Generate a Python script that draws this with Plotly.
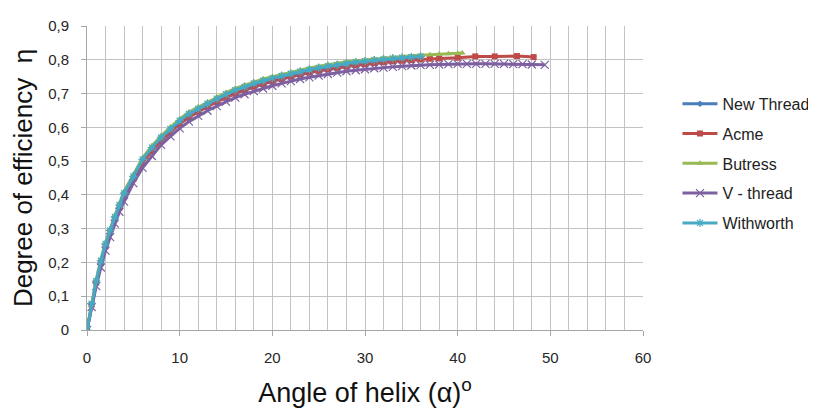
import plotly.graph_objects as go

# ---------------- data ----------------
new_x = [0, 0.5, 1, 1.5, 2, 2.5, 3, 3.5, 4, 5, 6, 7, 8, 9, 10, 11, 12, 13, 14, 15, 16, 17, 18,
         19, 20, 21, 22, 23, 24, 25, 26, 27, 28, 29, 30, 31, 32, 33, 34, 35, 35.5]
new_y = [0, 0.077, 0.144, 0.203, 0.253, 0.293, 0.333, 0.368, 0.403, 0.453, 0.503, 0.538, 0.568,
         0.593, 0.618, 0.638, 0.653, 0.668, 0.683, 0.696, 0.708, 0.718, 0.728, 0.736, 0.743, 0.75,
         0.757, 0.763, 0.769, 0.774, 0.779, 0.783, 0.787, 0.791, 0.794, 0.797, 0.8, 0.802, 0.804,
         0.806, 0.807]

acme_x = [0, 0.5, 1, 1.5, 2, 2.5, 3, 3.5, 4, 5, 6, 7, 8, 9, 10, 11, 12, 13, 14, 15, 16, 17, 18,
          19, 20, 21, 22, 23, 24, 25, 26, 27, 28, 29, 30, 31, 32, 33, 34, 35, 36, 37, 38, 40, 41.9,
          44, 46.4, 48.2]
acme_y = [0, 0.075, 0.14, 0.198, 0.248, 0.29, 0.328, 0.362, 0.395, 0.447, 0.495, 0.53, 0.56, 0.585,
          0.61, 0.63, 0.646, 0.661, 0.675, 0.688, 0.7, 0.71, 0.72, 0.728, 0.736, 0.743, 0.75, 0.756,
          0.762, 0.767, 0.772, 0.776, 0.78, 0.784, 0.787, 0.79, 0.793, 0.795, 0.797, 0.799, 0.801,
          0.803, 0.804, 0.806, 0.81, 0.81, 0.811, 0.808]

but_x = [0, 0.5, 1, 1.5, 2, 2.5, 3, 3.5, 4, 5, 6, 7, 8, 9, 10, 11, 12, 13, 14, 15, 16, 17, 18, 19,
         20, 21, 22, 23, 24, 25, 26, 27, 28, 29, 30, 31, 32, 33, 34, 35, 36, 37, 38, 39, 40, 40.5]
but_y = [0, 0.08, 0.15, 0.21, 0.26, 0.3, 0.34, 0.375, 0.41, 0.46, 0.51, 0.545, 0.575, 0.6, 0.625,
         0.645, 0.66, 0.675, 0.69, 0.703, 0.715, 0.725, 0.735, 0.743, 0.75, 0.757, 0.764, 0.77,
         0.776, 0.781, 0.786, 0.79, 0.794, 0.797, 0.8, 0.803, 0.806, 0.808, 0.81, 0.812, 0.814,
         0.815, 0.817, 0.818, 0.819, 0.82]

v_x = [0, 0.5, 1, 1.5, 2, 2.5, 3, 3.5, 4, 5, 6, 7, 8, 9, 10, 11, 12, 13, 14, 15, 16, 17, 18, 19,
       20, 21, 22, 23, 24, 25, 26, 27, 28, 29, 30, 31, 32, 33, 34, 35, 36, 37, 38, 39, 40, 41, 42,
       43, 44, 45, 46, 47, 48, 49.4]
v_y = [0, 0.068, 0.13, 0.185, 0.235, 0.275, 0.315, 0.35, 0.38, 0.435, 0.48, 0.515, 0.548, 0.573,
       0.597, 0.617, 0.634, 0.649, 0.663, 0.676, 0.688, 0.698, 0.707, 0.715, 0.723, 0.73, 0.737,
       0.743, 0.748, 0.753, 0.758, 0.762, 0.766, 0.769, 0.772, 0.775, 0.777, 0.779, 0.781, 0.783,
       0.784, 0.785, 0.786, 0.787, 0.788, 0.788, 0.788, 0.788, 0.788, 0.788, 0.787, 0.787, 0.786,
       0.785]

wit_x = [0, 0.5, 1, 1.5, 2, 2.5, 3, 3.5, 4, 5, 6, 7, 8, 9, 10, 11, 12, 13, 14, 15, 16, 17, 18, 19,
         20, 21, 22, 23, 24, 25, 26, 27, 28, 29, 30, 31, 32, 33, 34, 35, 36]
wit_y = [0, 0.078, 0.145, 0.205, 0.255, 0.295, 0.335, 0.37, 0.405, 0.455, 0.505, 0.54, 0.57, 0.595,
         0.62, 0.64, 0.655, 0.67, 0.685, 0.698, 0.71, 0.72, 0.73, 0.738, 0.745, 0.752, 0.759, 0.765,
         0.771, 0.776, 0.781, 0.785, 0.789, 0.793, 0.796, 0.799, 0.802, 0.804, 0.806, 0.808, 0.81]

y_tickvals = [0, 0.1, 0.2, 0.3, 0.4, 0.5, 0.6, 0.7, 0.8, 0.9]
y_ticktext = ["0", "0,1", "0,2", "0,3", "0,4", "0,5", "0,6", "0,7", "0,8", "0,9"]

series = [
    ("New Thread", new_x, new_y, "#4A7EBB", "diamond", 5, 0),
    ("Acme", acme_x, acme_y, "#BE4B48", "square", 6, 0),
    ("Butress", but_x, but_y, "#98B954", "triangle-up", 6, 0),
    ("V - thread", v_x, v_y, "#7D60A0", "x-thin-open", 8, 1.2),
    ("Withworth", wit_x, wit_y, "#46AAC5", "asterisk-open", 7, 1.2),
]

fig = go.Figure()
for i, (name, xs, ys, col, sym, size, lw) in enumerate(series):
    fig.add_trace(go.Scatter(
        x=xs, y=ys, name=name, mode="lines+markers", legendgroup=f"g{i}",
        line=dict(color=col, width=3),
        marker=dict(symbol=sym, size=size, color=col, line=dict(color=col, width=lw)),
    ))

grid = "#C3C3C3"
# the page body adds an 8px offset, margins compensate for it
fig.update_layout(
    width=816, height=409,
    margin=dict(l=79, r=173, t=9, b=87),
    paper_bgcolor="white", plot_bgcolor="white",
    font=dict(family="Liberation Sans, Arial, sans-serif", color="#262626"),
    legend=dict(x=1.062, y=0.80, xanchor="left", yanchor="top",
                font=dict(size=16, color="#222222"), tracegroupgap=6,
                itemwidth=35, bgcolor="rgba(0,0,0,0)"),
    xaxis=dict(
        range=[0, 60], dtick=10, tick0=0,
        showgrid=True, gridcolor=grid, gridwidth=1,
        minor=dict(dtick=2, showgrid=True, gridcolor=grid, gridwidth=1, ticks=""),
        showline=True, linecolor="#A6A6A6", linewidth=1,
        ticks="outside", ticklen=5, tickcolor="#A6A6A6",
        tickfont=dict(size=15, color="#262626"), ticklabelstandoff=9,
        zeroline=False, mirror=False,
        title=dict(text="Angle of helix (α)<sup>o</sup>", font=dict(size=27, color="#111111"),
                   standoff=18),
    ),
    yaxis=dict(
        range=[0, 0.9], tickvals=y_tickvals, ticktext=y_ticktext,
        showgrid=True, gridcolor=grid, gridwidth=1,
        showline=True, linecolor="#A6A6A6", linewidth=1,
        ticks="outside", ticklen=5, tickcolor="#A6A6A6",
        tickfont=dict(size=15, color="#262626"), ticklabelstandoff=9,
        zeroline=False,
        title=dict(text="Degree of efficiency \u00a0η", font=dict(size=26, color="#111111"),
                   standoff=12),
    ),
)

fig.write_html("out.html")
